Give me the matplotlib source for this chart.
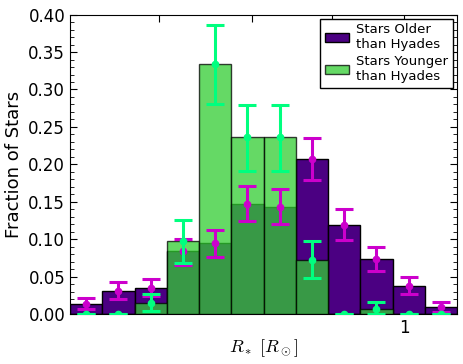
import numpy as np
import matplotlib
matplotlib.use('Agg')
import matplotlib.pyplot as plt

# bin edges in solar radii (12 log-spaced bins)
r_lo, r_hi = 0.2, 1.29
n_bins = 12

# fraction of stars per bin and error bar limits
older_frac = [0.0137, 0.0315, 0.0347, 0.0845, 0.0947, 0.147, 0.1436, 0.207, 0.119, 0.0733, 0.0382, 0.0097]
older_hi = [0.0213, 0.0427, 0.0467, 0.101, 0.113, 0.171, 0.1668, 0.235, 0.140, 0.0898, 0.0502, 0.0164]
older_lo = [0.0067, 0.0208, 0.0244, 0.066, 0.076, 0.124, 0.121, 0.179, 0.0987, 0.0573, 0.0267, 0.0035]

younger_frac = [0.0, 0.0, 0.0151, 0.0974, 0.3336, 0.2362, 0.2362, 0.0724, 0.0, 0.0075, 0.0, 0.0]
younger_hi = [0.0, 0.0, 0.0275, 0.1254, 0.386, 0.279, 0.279, 0.0974, 0.0, 0.016, 0.0, 0.0]
younger_lo = [0.0, 0.0, 0.0044, 0.0689, 0.281, 0.1916, 0.1916, 0.048, 0.0, 0.0, 0.0, 0.0]

x_ticks = [0.307, 0.481, 0.706, 1.0]
x_ticklabels = ['', '', '', '1']

plt.rcParams['mathtext.fontset'] = 'cm'

edges = np.logspace(np.log10(r_lo), np.log10(r_hi), n_bins + 1)
centers = np.sqrt(edges[:-1] * edges[1:])
widths = np.diff(edges)

fig = plt.figure(figsize=(4.64, 3.64), dpi=100)
ax = fig.add_axes([0.151, 0.1365, 0.834, 0.8235])

ax.bar(edges[:-1], older_frac, width=widths, align='edge', color='#4B0082',
       edgecolor='black', linewidth=1, label='Stars Older\nthan Hyades', zorder=2)
ax.bar(edges[:-1], younger_frac, width=widths, align='edge', color='#32CD32',
       alpha=0.75, edgecolor='black', linewidth=1, label='Stars Younger\nthan Hyades', zorder=3)

o = np.array(older_frac)
y = np.array(younger_frac)
ax.errorbar(centers, o, yerr=[o - np.array(older_lo), np.array(older_hi) - o],
            fmt='o', color='#CC00CC', ms=4.5, elinewidth=2.2, capsize=6.4, capthick=2.2,
            zorder=4)
ax.errorbar(centers, y, yerr=[y - np.array(younger_lo), np.array(younger_hi) - y],
            fmt='o', color='#00FF7F', ms=4.5, elinewidth=2.2, capsize=6.4, capthick=2.2,
            zorder=5)

ax.set_xscale('log')
ax.set_xlim(r_lo, r_hi)
ax.set_ylim(0, 0.4)
ax.set_xticks(x_ticks)
ax.set_xticklabels(x_ticklabels)
ax.xaxis.set_minor_locator(matplotlib.ticker.NullLocator())
ax.set_yticks(np.arange(0, 0.401, 0.05))
ax.yaxis.set_minor_locator(matplotlib.ticker.MultipleLocator(0.01))
ax.yaxis.set_major_formatter(matplotlib.ticker.FormatStrFormatter('%.2f'))

ax.tick_params(which='both', direction='in', top=True, right=True, labelsize=12)
ax.tick_params(which='major', length=5)
ax.tick_params(which='minor', length=3)
ax.set_xlabel(r'$R_*\ [R_\odot]$', fontsize=13, labelpad=0)
ax.set_ylabel('Fraction of Stars', fontsize=13)

leg = ax.legend(loc='upper right', fontsize=9.5, fancybox=False, framealpha=1,
                borderaxespad=0.3, handlelength=1.8, labelspacing=0.3,
                handletextpad=0.6, borderpad=0.35)
leg.get_frame().set_edgecolor('black')

fig.savefig('out.png', dpi=100)
